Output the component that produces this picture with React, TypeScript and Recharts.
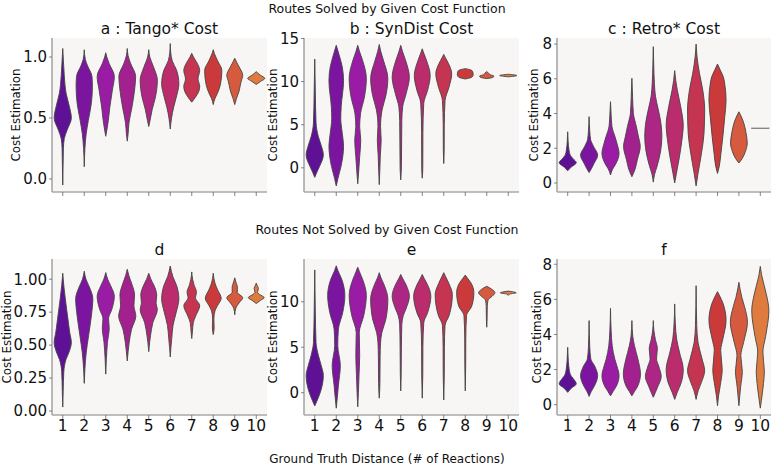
import { Area, CartesianGrid, ComposedChart, XAxis, YAxis } from "recharts";

// Each violin is a list of [cost, half-width] knots, bottom to top.
// Half-width is in units of the distance axis (0.4 = widest violin).
type Knot = [number, number];

const distances = [1, 2, 3, 4, 5, 6, 7, 8, 9, 10];

const violinColors = [
  "#5f1196", "#7b159f", "#9a1ca5", "#a3208f", "#ae2683",
  "#bb2c6c", "#c53552", "#cb3a3b", "#d65a3d", "#df7b3e",
];

const tangoSolved: Knot[][] = [
  [[-0.05, 0], [0.1, 0.015], [0.25, 0.03], [0.33, 0.07], [0.4, 0.2], [0.5, 0.4], [0.6, 0.3], [0.7, 0.16], [0.85, 0.07], [0.97, 0.03], [1.07, 0]],
  [[0.1, 0], [0.25, 0.03], [0.37, 0.09], [0.48, 0.19], [0.62, 0.33], [0.76, 0.38], [0.84, 0.36], [0.93, 0.15], [0.98, 0.05], [1.06, 0]],
  [[0.35, 0], [0.4, 0.05], [0.48, 0.12], [0.59, 0.19], [0.73, 0.31], [0.84, 0.4], [0.95, 0.15], [1.0, 0.05], [1.035, 0]],
  [[0.31, 0], [0.37, 0.04], [0.46, 0.08], [0.59, 0.22], [0.73, 0.34], [0.84, 0.39], [0.95, 0.15], [1.01, 0.04], [1.07, 0]],
  [[0.43, 0], [0.48, 0.06], [0.57, 0.16], [0.67, 0.31], [0.81, 0.4], [0.92, 0.22], [1.0, 0.05], [1.06, 0]],
  [[0.41, 0], [0.5, 0.06], [0.59, 0.16], [0.67, 0.28], [0.78, 0.4], [0.89, 0.3], [0.97, 0.09], [1.04, 0.02], [1.11, 0]],
  [[0.63, 0], [0.67, 0.17], [0.72, 0.33], [0.76, 0.37], [0.82, 0.29], [0.89, 0.37], [0.96, 0.22], [1.0, 0.08], [1.03, 0]],
  [[0.61, 0], [0.66, 0.08], [0.7, 0.19], [0.78, 0.34], [0.89, 0.4], [0.97, 0.2], [1.03, 0.05], [1.06, 0]],
  [[0.61, 0], [0.66, 0.08], [0.72, 0.2], [0.77, 0.26], [0.8, 0.3], [0.85, 0.37], [0.92, 0.2], [0.96, 0.08], [0.99, 0]],
  [[0.775, 0], [0.8, 0.2], [0.825, 0.4], [0.85, 0.2], [0.88, 0]],
];

const synDistSolved: Knot[][] = [
  [[-1.1, 0], [-0.5, 0.1], [0.15, 0.22], [1.5, 0.4], [2.6, 0.3], [3.6, 0.17], [5.2, 0.06], [9, 0.025], [12.6, 0]],
  [[-2.1, 0], [-1.2, 0.08], [0.15, 0.22], [2.5, 0.34], [4, 0.28], [5.7, 0.21], [7.1, 0.23], [10.1, 0.34], [11.7, 0.28], [13.2, 0.12], [14.2, 0]],
  [[-1.85, 0], [-0.5, 0.04], [1.3, 0.09], [3.2, 0.14], [4.8, 0.09], [6.3, 0.13], [8.2, 0.31], [10.35, 0.4], [12.5, 0.22], [13.5, 0.08], [14.2, 0]],
  [[-1.95, 0], [0, 0.03], [1.5, 0.05], [3.2, 0.09], [4.8, 0.06], [6.7, 0.13], [8.4, 0.31], [10.35, 0.4], [12.5, 0.19], [13.5, 0.07], [14.3, 0]],
  [[-1.4, 0], [0, 0.03], [3, 0.04], [5.5, 0.05], [7.1, 0.09], [8.6, 0.25], [10.5, 0.4], [12.5, 0.22], [13.5, 0.08], [14.2, 0]],
  [[-1.2, 0], [0, 0.025], [4, 0.03], [7.5, 0.07], [9, 0.25], [10.7, 0.37], [12.5, 0.19], [13.3, 0.07], [13.8, 0]],
  [[0.5, 0], [2, 0.02], [5, 0.025], [7.8, 0.06], [9.4, 0.25], [10.9, 0.37], [12.1, 0.22], [12.8, 0.07], [13.15, 0]],
  [[10.3, 0], [10.5, 0.3], [10.8, 0.37], [11.1, 0.35], [11.3, 0.3], [11.5, 0]],
  [[10.35, 0], [10.5, 0.3], [10.65, 0.33], [10.8, 0.15], [11.0, 0.08], [11.15, 0]],
  [[10.55, 0], [10.7, 0.4], [10.85, 0]],
];

const retroSolved: Knot[][] = [
  [[0.7, 0], [0.9, 0.15], [1.17, 0.4], [1.4, 0.25], [1.6, 0.12], [1.9, 0.06], [2.4, 0.02], [2.95, 0]],
  [[0.6, 0], [0.85, 0.12], [1.1, 0.22], [1.6, 0.4], [2.1, 0.21], [2.5, 0.07], [3.0, 0.03], [3.82, 0]],
  [[0.46, 0], [0.8, 0.1], [1.04, 0.22], [1.7, 0.4], [2.2, 0.32], [2.67, 0.21], [3.24, 0.07], [3.9, 0.03], [4.68, 0]],
  [[0.36, 0], [0.8, 0.15], [1.32, 0.25], [2.1, 0.39], [2.7, 0.3], [3.24, 0.21], [4.0, 0.07], [5, 0.03], [6.03, 0]],
  [[0.05, 0], [0.5, 0.06], [0.94, 0.17], [1.9, 0.35], [2.7, 0.4], [3.5, 0.35], [4.3, 0.22], [5.0, 0.1], [5.74, 0.05], [6.8, 0.02], [7.85, 0]],
  [[0.0, 0], [0.55, 0.08], [1.5, 0.22], [2.5, 0.34], [3.3, 0.4], [4.4, 0.28], [5.36, 0.12], [5.9, 0.05], [6.47, 0]],
  [[-0.17, 0], [0.55, 0.09], [1.7, 0.25], [2.86, 0.37], [4.2, 0.4], [5.36, 0.31], [6.3, 0.16], [7.2, 0.05], [8.0, 0]],
  [[0.55, 0], [0.94, 0.08], [1.7, 0.16], [2.67, 0.25], [3.82, 0.34], [4.78, 0.4], [5.6, 0.35], [6.12, 0.27], [6.5, 0.13], [6.85, 0]],
  [[1.15, 0], [1.4, 0.15], [1.8, 0.3], [2.3, 0.39], [2.9, 0.33], [3.44, 0.23], [3.8, 0.12], [4.1, 0]],
  [[3.15, 0.4]],
];

const tangoUnsolved: Knot[][] = [
  [[0.03, 0], [0.15, 0.02], [0.3, 0.05], [0.39, 0.15], [0.45, 0.3], [0.52, 0.4], [0.6, 0.32], [0.7, 0.24], [0.85, 0.12], [0.95, 0.05], [1.045, 0]],
  [[0.21, 0], [0.32, 0.03], [0.44, 0.09], [0.57, 0.2], [0.72, 0.33], [0.85, 0.4], [0.94, 0.24], [1.0, 0.08], [1.06, 0]],
  [[0.28, 0], [0.4, 0.03], [0.52, 0.08], [0.63, 0.16], [0.7, 0.13], [0.77, 0.28], [0.87, 0.4], [0.95, 0.23], [1.0, 0.09], [1.05, 0]],
  [[0.38, 0], [0.45, 0.04], [0.52, 0.09], [0.62, 0.2], [0.72, 0.4], [0.8, 0.31], [0.88, 0.34], [0.97, 0.2], [1.03, 0.07], [1.075, 0]],
  [[0.45, 0], [0.52, 0.04], [0.57, 0.08], [0.67, 0.19], [0.77, 0.4], [0.82, 0.34], [0.88, 0.37], [0.95, 0.25], [1.0, 0.1], [1.045, 0]],
  [[0.41, 0], [0.48, 0.03], [0.55, 0.07], [0.65, 0.13], [0.75, 0.28], [0.85, 0.4], [0.95, 0.3], [1.02, 0.12], [1.1, 0]],
  [[0.55, 0], [0.6, 0.03], [0.67, 0.07], [0.72, 0.18], [0.8, 0.37], [0.86, 0.17], [0.9, 0.22], [0.96, 0.1], [1.0, 0.04], [1.055, 0]],
  [[0.58, 0], [0.63, 0.04], [0.7, 0.03], [0.76, 0.08], [0.8, 0.2], [0.855, 0.37], [0.92, 0.2], [0.97, 0.08], [1.045, 0]],
  [[0.73, 0], [0.78, 0.05], [0.82, 0.2], [0.86, 0.37], [0.9, 0.12], [0.94, 0.12], [0.98, 0.05], [1.01, 0]],
  [[0.815, 0], [0.84, 0.2], [0.86, 0.37], [0.885, 0.15], [0.9, 0.06], [0.93, 0.1], [0.95, 0.05], [0.97, 0]],
];

const synDistUnsolved: Knot[][] = [
  [[-1.45, 0], [-0.8, 0.12], [0.05, 0.26], [1.9, 0.4], [3, 0.3], [4.1, 0.17], [5.5, 0.06], [9, 0.025], [13.5, 0]],
  [[-1.7, 0], [-0.5, 0.05], [0.8, 0.1], [3, 0.19], [5.2, 0.07], [7, 0.1], [8.8, 0.3], [10.7, 0.4], [12.5, 0.25], [13.4, 0.08], [13.95, 0]],
  [[-1.55, 0], [0, 0.03], [2, 0.06], [4.1, 0.09], [6.6, 0.07], [8.5, 0.28], [10.7, 0.4], [12.5, 0.22], [13.3, 0.08], [13.8, 0]],
  [[-0.6, 0], [1, 0.03], [4, 0.04], [5.5, 0.06], [6.6, 0.12], [8.1, 0.31], [10.3, 0.4], [11.9, 0.22], [12.7, 0.07], [13.2, 0]],
  [[0.2, 0], [2, 0.02], [5, 0.03], [7.5, 0.05], [8.5, 0.12], [9.2, 0.24], [10.6, 0.4], [11.9, 0.24], [12.6, 0.08], [13.0, 0]],
  [[-0.6, 0], [2, 0.025], [5, 0.03], [7.7, 0.07], [8.8, 0.25], [10.6, 0.4], [11.9, 0.24], [12.6, 0.08], [13.0, 0]],
  [[-0.8, 0], [2, 0.025], [5, 0.03], [7.4, 0.06], [8.5, 0.25], [10.8, 0.4], [12, 0.24], [12.8, 0.08], [13.2, 0]],
  [[0.2, 0], [3, 0.02], [6, 0.025], [8.5, 0.06], [9.5, 0.3], [11.0, 0.4], [12.1, 0.26], [12.6, 0.1], [12.93, 0]],
  [[7.2, 0], [8, 0.015], [9.5, 0.025], [10.2, 0.06], [10.6, 0.25], [11.0, 0.38], [11.35, 0.25], [11.7, 0]],
  [[10.7, 0], [10.85, 0.08], [10.98, 0.37], [11.1, 0.2], [11.17, 0]],
];

const retroUnsolved: Knot[][] = [
  [[0.7, 0], [0.95, 0.18], [1.18, 0.4], [1.5, 0.25], [1.7, 0.13], [2.2, 0.05], [2.7, 0.02], [3.27, 0]],
  [[0.47, 0], [0.75, 0.1], [1.0, 0.22], [1.65, 0.4], [2.2, 0.26], [2.6, 0.08], [3.3, 0.03], [4.79, 0]],
  [[0.5, 0], [0.75, 0.12], [1.0, 0.25], [1.65, 0.4], [2.2, 0.3], [2.6, 0.2], [3.36, 0.08], [4.2, 0.03], [5.49, 0]],
  [[0.5, 0], [0.75, 0.12], [1.0, 0.25], [1.75, 0.4], [2.6, 0.28], [3.36, 0.12], [3.9, 0.04], [4.79, 0]],
  [[0.42, 0], [0.7, 0.1], [1.0, 0.2], [1.6, 0.37], [2.2, 0.25], [2.6, 0.15], [3.2, 0.19], [3.7, 0.1], [4.2, 0.03], [4.79, 0]],
  [[0.3, 0], [0.7, 0.12], [1.27, 0.31], [2.0, 0.4], [3.0, 0.22], [3.74, 0.09], [4.6, 0.03], [5.74, 0]],
  [[0.3, 0], [0.8, 0.1], [1.27, 0.25], [1.94, 0.4], [2.6, 0.28], [3.55, 0.09], [4.5, 0.03], [6.78, 0]],
  [[-0.06, 0], [0.5, 0.05], [1.1, 0.13], [2.0, 0.22], [3.1, 0.15], [3.74, 0.25], [4.8, 0.4], [5.8, 0.25], [6.2, 0.1], [6.44, 0]],
  [[-0.06, 0], [0.5, 0.04], [1.0, 0.08], [1.9, 0.16], [2.8, 0.09], [3.55, 0.22], [4.7, 0.4], [5.6, 0.26], [6.1, 0.14], [6.97, 0]],
  [[-0.2, 0], [0.5, 0.08], [1.2, 0.15], [1.9, 0.19], [3.0, 0.12], [3.9, 0.25], [5.36, 0.4], [6.3, 0.28], [6.8, 0.18], [7.4, 0.06], [7.88, 0]],
];

const tangoTicks = [0, 0.5, 1.0];
const synDistSolvedTicks = [0, 5, 10, 15];
const retroTicks = [0, 2, 4, 6, 8];
const tangoUnsolvedTicks = [0, 0.25, 0.5, 0.75, 1.0];
const synDistUnsolvedTicks = [0, 5, 10];

const FONT = "DejaVu Sans, Liberation Sans, sans-serif";
const OUTLINE = "#444444";
const SPINE = "#a8a8a8";
const PANEL_BG = "#f7f6f4";

interface PanelSpec {
  title: string;
  profiles: Knot[][];
  domain: [number, number];
  ticks: number[];
  digits: number;
  left: number;
  top: number;
  width: number;
  height: number;
  xLabels: boolean;
  yLabelX: number;
}

const TOP_Y = 38;
const BOTTOM_Y = 259;

const panels: PanelSpec[] = [
  { title: "a : Tango* Cost", profiles: tangoSolved, domain: [-0.107, 1.156], ticks: tangoTicks, digits: 1, left: 52, top: TOP_Y, width: 215, height: 154, xLabels: false, yLabelX: 16 },
  { title: "b : SynDist Cost", profiles: synDistSolved, domain: [-2.8, 15.05], ticks: synDistSolvedTicks, digits: 0, left: 304, top: TOP_Y, width: 215, height: 154, xLabels: false, yLabelX: 273 },
  { title: "c : Retro* Cost", profiles: retroSolved, domain: [-0.52, 8.35], ticks: retroTicks, digits: 0, left: 557, top: TOP_Y, width: 214, height: 154, xLabels: false, yLabelX: 534 },
  { title: "d", profiles: tangoUnsolved, domain: [-0.03, 1.153], ticks: tangoUnsolvedTicks, digits: 2, left: 52, top: BOTTOM_Y, width: 215, height: 156, xLabels: true, yLabelX: 7 },
  { title: "e", profiles: synDistUnsolved, domain: [-2.45, 14.7], ticks: synDistUnsolvedTicks, digits: 0, left: 304, top: BOTTOM_Y, width: 215, height: 156, xLabels: true, yLabelX: 273 },
  { title: "f", profiles: retroUnsolved, domain: [-0.59, 8.3], ticks: retroTicks, digits: 0, left: 557, top: BOTTOM_Y, width: 214, height: 156, xLabels: true, yLabelX: 537 },
];

// Turn a violin's knots into rows for a ranged Area in vertical layout.
function violinRows(knots: Knot[], center: number, span: number) {
  if (knots.length === 1) {
    const [y, w] = knots[0];
    const d = span * 0.004;
    return [
      { y: y - d, span: [center - w, center + w] },
      { y: y + d, span: [center - w, center + w] },
    ];
  }
  return knots.map(([y, w]) => ({ y, span: [center - w, center + w] }));
}

const AXIS_W = 50;
const PAD_TOP = 12;
const PAD_RIGHT = 4;
const AXIS_H = 30;

function ViolinPanel({ spec }: { spec: PanelSpec }) {
  const span = spec.domain[1] - spec.domain[0];
  return (
    <div style={{ position: "absolute", left: spec.left - AXIS_W, top: spec.top - PAD_TOP }}>
      <ComposedChart
        layout="vertical"
        width={spec.width + AXIS_W + PAD_RIGHT}
        height={spec.height + PAD_TOP + AXIS_H}
        margin={{ top: PAD_TOP, right: PAD_RIGHT, bottom: 0, left: 0 }}
      >
        <CartesianGrid fill={PANEL_BG} stroke="none" horizontal={false} vertical={false} />
        <XAxis
          type="number"
          domain={[0.5, 10.5]}
          ticks={distances}
          allowDataOverflow
          height={AXIS_H}
          interval={0}
          tickSize={4}
          tickMargin={1}
          tickFormatter={(v) => (spec.xLabels ? String(v) : "")}
          tick={{ fill: "#111", fontSize: 15.5, fontFamily: FONT }}
          axisLine={{ stroke: SPINE, strokeWidth: 1.6 }}
          tickLine={{ stroke: "#666", strokeWidth: 0.8 }}
        />
        <YAxis
          type="number"
          dataKey="y"
          domain={spec.domain}
          ticks={spec.ticks}
          reversed
          allowDataOverflow
          width={AXIS_W}
          interval={0}
          tickSize={3}
          tickMargin={2}
          tickFormatter={(v) => Number(v).toFixed(spec.digits)}
          tick={{ fill: "#111", fontSize: 15, fontFamily: FONT }}
          axisLine={{ stroke: SPINE, strokeWidth: 1.6 }}
          tickLine={{ stroke: "#666", strokeWidth: 0.8 }}
        />
        {spec.profiles.map((knots, i) => (
          <Area
            key={i}
            data={violinRows(knots, distances[i], span)}
            dataKey="span"
            type="monotone"
            fill={knots.length === 1 ? "#777" : violinColors[i]}
            fillOpacity={1}
            stroke={knots.length === 1 ? "#777" : OUTLINE}
            strokeWidth={0.9}
            dot={false}
            activeDot={false}
            isAnimationActive={false}
          />
        ))}
      </ComposedChart>
    </div>
  );
}

export default function App() {
  return (
    <div
      style={{
        position: "absolute",
        left: 0,
        top: 0,
        width: 774,
        height: 468,
        background: "#fff",
        fontFamily: FONT,
      }}
    >
      {panels.map((p) => (
        <ViolinPanel key={p.title} spec={p} />
      ))}
      <svg
        width={774}
        height={468}
        style={{ position: "absolute", left: 0, top: 0, pointerEvents: "none" }}
        fontFamily={FONT}
        fill="#111"
      >
        <text x={387} y={13} fontSize={12.5} textAnchor="middle">
          Routes Solved by Given Cost Function
        </text>
        <text x={387} y={234} fontSize={12.5} textAnchor="middle">
          Routes Not Solved by Given Cost Function
        </text>
        <text x={387} y={463} fontSize={12} textAnchor="middle">
          Ground Truth Distance (# of Reactions)
        </text>
        {panels.map((p) => (
          <g key={p.title}>
            <text x={p.left + p.width / 2} y={p.top - 4} fontSize={15.5} textAnchor="middle">
              {p.title}
            </text>
            <text
              x={p.yLabelX}
              y={p.top + p.height / 2}
              fontSize={11.8}
              textAnchor="middle"
              dominantBaseline="central"
              transform={`rotate(-90 ${p.yLabelX} ${p.top + p.height / 2})`}
            >
              Cost Estimation
            </text>
          </g>
        ))}
      </svg>
    </div>
  );
}
